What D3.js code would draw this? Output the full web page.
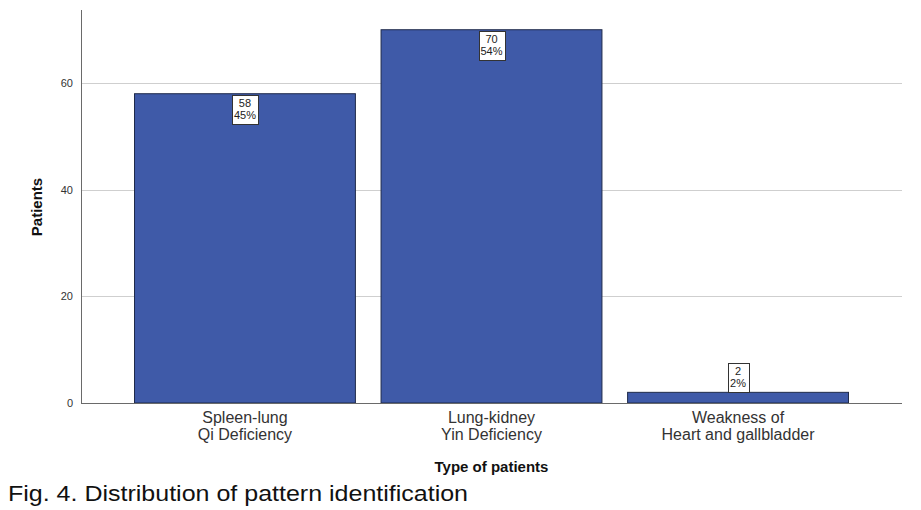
<!DOCTYPE html>
<html>
<head>
<meta charset="utf-8">
<script src="https://cdn.jsdelivr.net/npm/d3@7"></script>
<style>
  html, body { margin: 0; padding: 0; background: #fff; }
  svg { display: block; }
</style>
</head>
<body>
<svg id="chart" width="921" height="510"></svg>
<script>
const categories = [
  ["Spleen-lung", "Qi Deficiency"],
  ["Lung-kidney", "Yin Deficiency"],
  ["Weakness of", "Heart and gallbladder"]
];
const values = [58, 70, 2];
const percentLabels = ["45%", "54%", "2%"];
const yTicks = [0, 20, 40, 60];
const yTitle = "Patients";
const xTitle = "Type of patients";
const caption = "Fig. 4. Distribution of pattern identification";

(function () {
const FONT = "'Liberation Sans', Arial, sans-serif";
const svg = d3.select("#chart");
const pLeft = 81, pRight = 902, pTop = 10, pBottom = 403;

const x = d3.scaleBand()
  .domain(d3.range(categories.length))
  .range([pLeft, pRight])
  .paddingInner(0.1)
  .paddingOuter(0.215);

const y = d3.scaleLinear().domain([0, 73.7]).range([pBottom, pTop]);

// gridlines
svg.append("g")
  .selectAll("line")
  .data(yTicks.filter(d => d > 0))
  .join("line")
  .attr("x1", pLeft).attr("x2", pRight)
  .attr("y1", d => Math.round(y(d)) + 0.5).attr("y2", d => Math.round(y(d)) + 0.5)
  .attr("stroke", "#cfcfcf").attr("stroke-width", 1);

// bars
svg.append("g")
  .selectAll("rect")
  .data(values)
  .join("rect")
  .attr("x", (d, i) => x(i) + 0.5)
  .attr("y", d => y(d))
  .attr("width", x.bandwidth() - 1)
  .attr("height", d => pBottom - y(d))
  .attr("fill", "#3f5aa8")
  .attr("stroke", "#1f2a4a")
  .attr("stroke-width", 1);

// y axis
const yAxis = d3.axisLeft(y).tickValues(yTicks).tickSize(0).tickPadding(8).tickFormat(d3.format("d"));
const gy = svg.append("g").attr("transform", `translate(${pLeft},0)`).call(yAxis);
gy.select(".domain").remove();
gy.attr("font-family", FONT).attr("font-size", 11);
gy.selectAll("text").attr("fill", "#333");
svg.append("line").attr("x1", pLeft + 0.5).attr("x2", pLeft + 0.5).attr("y1", pTop).attr("y2", pBottom)
  .attr("stroke", "#6a6a6a").attr("stroke-width", 1);

// x axis baseline
svg.append("line").attr("x1", pLeft).attr("x2", pRight).attr("y1", pBottom + 0.5).attr("y2", pBottom + 0.5)
  .attr("stroke", "#6a6a6a").attr("stroke-width", 1);

// category labels
const xl = svg.append("g");
categories.forEach((lines, i) => {
  const t = xl.append("text")
    .attr("x", x(i) + x.bandwidth() / 2)
    .attr("y", 423)
    .attr("text-anchor", "middle")
    .style("font-family", FONT)
    .attr("font-size", 16)
    .attr("fill", "#333");
  lines.forEach((l, j) => {
    t.append("tspan").attr("x", x(i) + x.bandwidth() / 2).attr("dy", j === 0 ? 0 : 17).text(l);
  });
});

// data labels
const lg = svg.append("g");
values.forEach((v, i) => {
  const cx = x(i) + x.bandwidth() / 2;
  const lines = [String(v), percentLabels[i]];
  const w = percentLabels[i].length > 2 ? 26 : 21;
  const h = 29;
  const barTop = y(v);
  const boxTop = (pBottom - barTop) > h + 4 ? barTop + 1 : barTop - h;
  lg.append("rect")
    .attr("x", Math.round(cx - w / 2) + 0.5).attr("y", Math.round(boxTop) + 0.5)
    .attr("width", w).attr("height", h)
    .attr("fill", "#fff").attr("stroke", "#333").attr("stroke-width", 1);
  lines.forEach((l, j) => {
    lg.append("text")
      .attr("x", cx).attr("y", boxTop + 12 + j * 12)
      .attr("text-anchor", "middle")
      .style("font-family", FONT)
      .attr("font-size", 11)
      .attr("fill", "#222")
      .text(l);
  });
});

// axis titles
svg.append("text")
  .attr("transform", `translate(42,207) rotate(-90)`)
  .attr("text-anchor", "middle")
  .style("font-family", FONT)
  .attr("font-size", 15).attr("font-weight", "bold").attr("fill", "#111")
  .text(yTitle);

svg.append("text")
  .attr("x", (pLeft + pRight) / 2).attr("y", 472)
  .attr("text-anchor", "middle")
  .style("font-family", FONT)
  .attr("font-size", 15).attr("font-weight", "bold").attr("fill", "#111")
  .text(xTitle);

// caption
svg.append("text")
  .attr("x", 8).attr("y", 501)
  .style("font-family", FONT)
  .attr("font-size", 22).attr("fill", "#111")
  .attr("textLength", 460).attr("lengthAdjust", "spacingAndGlyphs")
  .text(caption);
})();
</script>
</body>
</html>
